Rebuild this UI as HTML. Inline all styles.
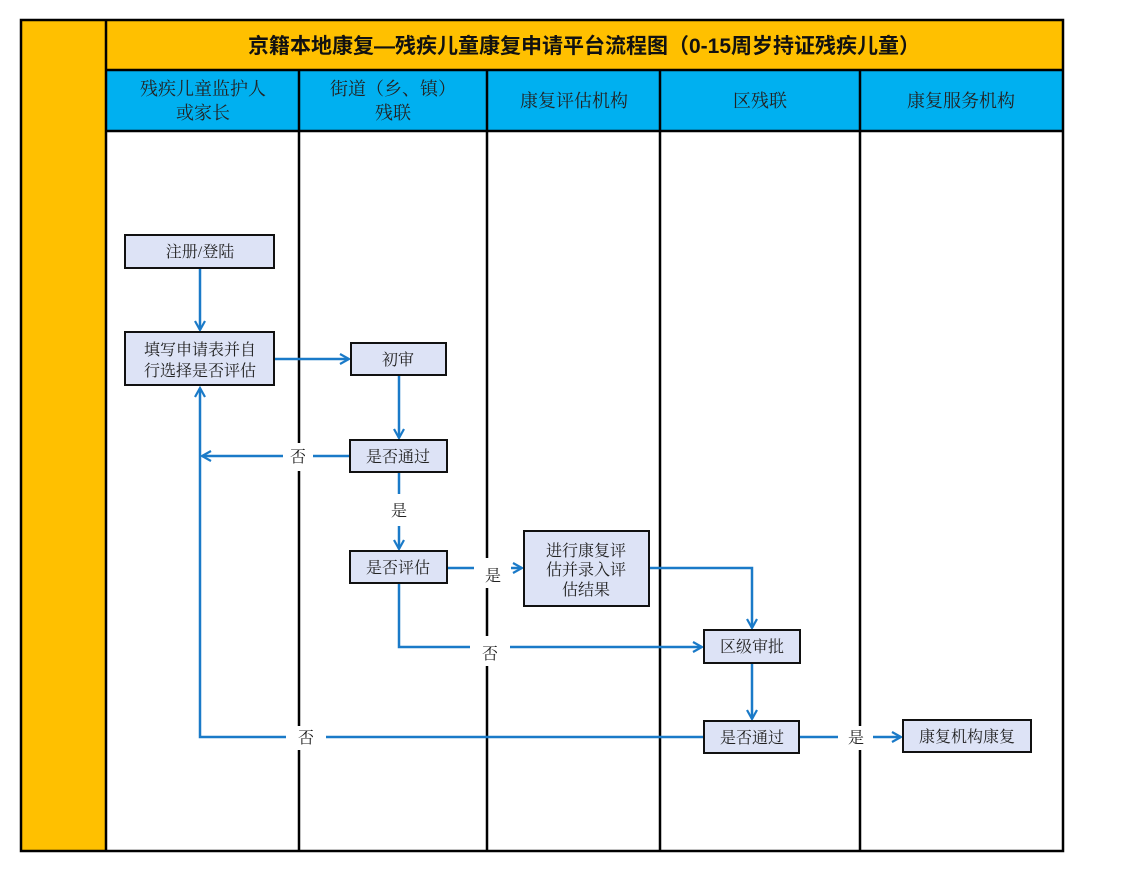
<!DOCTYPE html>
<html><head><meta charset="utf-8"><style>
html,body{margin:0;padding:0;background:#fff;}
svg{display:block;}
text{font-family:"Liberation Serif","Noto Serif CJK SC","Noto Sans CJK SC",serif;}
</style></head><body>
<svg width="1124" height="873" viewBox="0 0 1124 873" xmlns="http://www.w3.org/2000/svg">
<defs>
<marker id="a" markerWidth="12" markerHeight="12" refX="10" refY="6" orient="auto" markerUnits="userSpaceOnUse">
<path d="M1,1 L10,6 L1,11" fill="none" stroke="#1a7ac8" stroke-width="2.2"/>
</marker>
</defs>
<rect x="21" y="20" width="1042" height="831" fill="#fff"/>
<rect x="21" y="20" width="85" height="831" fill="#FFC000"/>
<rect x="106" y="20" width="957" height="50" fill="#FFC000"/>
<rect x="106" y="70" width="957" height="61" fill="#00B0F0"/>
<g stroke="#000" stroke-width="2.5" fill="none">
<rect x="21" y="20" width="1042" height="831"/>
<line x1="106" y1="20" x2="106" y2="851"/>
<line x1="106" y1="70" x2="1063" y2="70"/>
<line x1="106" y1="131" x2="1063" y2="131"/>
<line x1="299" y1="70" x2="299" y2="851"/>
<line x1="487" y1="70" x2="487" y2="851"/>
<line x1="660" y1="70" x2="660" y2="851"/>
<line x1="860" y1="70" x2="860" y2="851"/>
</g>
<text x="584" y="53" text-anchor="middle" font-size="21" font-weight="bold" fill="#111" style="font-family:'Liberation Sans','Noto Sans CJK SC',sans-serif">京籍本地康复—残疾儿童康复申请平台流程图（0-15周岁持证残疾儿童）</text>
<g font-size="18" fill="#222" text-anchor="middle">
<text x="203" y="95">残疾儿童监护人</text><text x="203" y="119">或家长</text>
<text x="393" y="95">街道（乡、镇）</text><text x="393" y="119">残联</text>
<text x="574" y="107">康复评估机构</text>
<text x="760" y="107">区残联</text>
<text x="961" y="107">康复服务机构</text>
</g>
<g stroke="#1a7ac8" stroke-width="2.5" fill="none">
<line x1="200" y1="268" x2="200" y2="330" marker-end="url(#a)"/>
<line x1="274" y1="359" x2="349" y2="359" marker-end="url(#a)"/>
<line x1="399" y1="375" x2="399" y2="438" marker-end="url(#a)"/>
<polyline points="350,456 313,456"/>
<polyline points="283,456 202,456" marker-end="url(#a)"/>
<line x1="399" y1="472" x2="399" y2="494"/>
<line x1="399" y1="526" x2="399" y2="549" marker-end="url(#a)"/>
<line x1="447" y1="568" x2="474" y2="568"/>
<line x1="511" y1="568" x2="522" y2="568" marker-end="url(#a)"/>
<polyline points="649,568 752,568 752,628" marker-end="url(#a)"/>
<polyline points="399,583 399,647 470,647"/>
<line x1="510" y1="647" x2="702" y2="647" marker-end="url(#a)"/>
<line x1="752" y1="663" x2="752" y2="719" marker-end="url(#a)"/>
<polyline points="704,737 326,737"/>
<polyline points="286,737 200,737 200,388" marker-end="url(#a)"/>
<line x1="799" y1="737" x2="838" y2="737"/>
<line x1="873" y1="737" x2="901" y2="737" marker-end="url(#a)"/>
</g>
<g fill="#fff">
<rect x="284" y="443" width="28" height="28"/>
<rect x="478" y="558" width="31" height="30"/>
<rect x="474" y="636" width="34" height="30"/>
<rect x="290" y="726" width="34" height="24"/>
<rect x="840" y="726" width="32" height="24"/>
<rect x="386" y="496" width="26" height="28"/>
</g>
<g font-size="16" fill="#222" text-anchor="middle">
<text x="298" y="462">否</text>
<text x="399" y="516">是</text>
<text x="493" y="581">是</text>
<text x="490" y="659">否</text>
<text x="306" y="743">否</text>
<text x="856" y="743">是</text>
</g>
<g fill="#DDE3F6" stroke="#111" stroke-width="2">
<rect x="125" y="235" width="149" height="33"/>
<rect x="125" y="332" width="149" height="53"/>
<rect x="351" y="343" width="95" height="32"/>
<rect x="350" y="440" width="97" height="32"/>
<rect x="350" y="551" width="97" height="32"/>
<rect x="524" y="531" width="125" height="75"/>
<rect x="704" y="630" width="96" height="33"/>
<rect x="704" y="721" width="95" height="32"/>
<rect x="903" y="720" width="128" height="32"/>
</g>
<g font-size="16" fill="#222" text-anchor="middle">
<text x="200" y="257">注册/登陆</text>
<text x="200" y="355">填写申请表并自</text><text x="200" y="376">行选择是否评估</text>
<text x="398" y="365">初审</text>
<text x="398" y="462">是否通过</text>
<text x="398" y="573">是否评估</text>
<text x="586" y="556">进行康复评</text><text x="586" y="575">估并录入评</text><text x="586" y="595">估结果</text>
<text x="752" y="652">区级审批</text>
<text x="752" y="743">是否通过</text>
<text x="967" y="742">康复机构康复</text>
</g>
</svg>
</body></html>
